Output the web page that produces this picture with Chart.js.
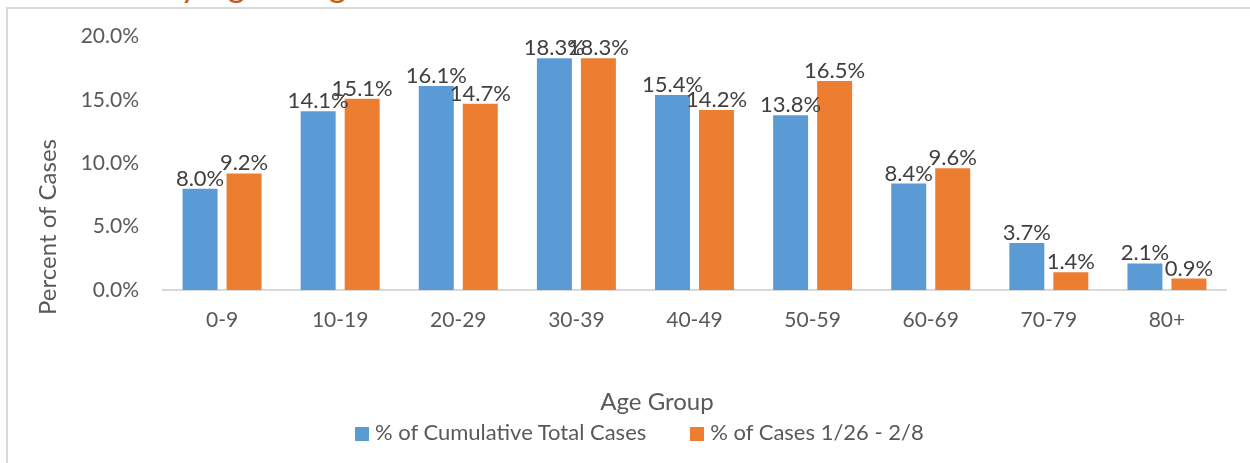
<!DOCTYPE html>
<html>
<head>
<meta charset="UTF-8">
<title>Percent of Cases by Age Range</title>
<script src="https://cdn.jsdelivr.net/npm/chart.js@4.4.4/dist/chart.umd.min.js"></script>
<style>
body { margin: 0; background: #fff; }
#wrap { position: relative; width: 1250px; height: 463px; overflow: hidden; font-family: Lato, sans-serif; }
#frame { position: absolute; left: 6px; top: 7px; width: 1300px; height: 500px;
  border-left: 2px solid #d9d9d9; border-top: 2px solid #d9d9d9; }
#title { position: absolute; left: 66px; top: -33px; font-size: 34px; line-height: 34px;
  color: #c55a11; white-space: nowrap; }
#myChart { position: absolute; left: 0; top: 0; }
#legend { position: absolute; left: 355px; top: 420px; font-size: 22px; color: #595959;
  white-space: nowrap; line-height: 24px; }
#legend span.item { display: inline-block; margin-right: 44px; }
#legend span.box { display: inline-block; width: 14px; height: 14px; margin-right: 6px; vertical-align: -1px; }
</style>
<script>
// data
const ageGroups = ['0-9', '10-19', '20-29', '30-39', '40-49', '50-59', '60-69', '70-79', '80+'];
const cumulativePct = [8.0, 14.1, 16.1, 18.3, 15.4, 13.8, 8.4, 3.7, 2.1];
const recentPct = [9.2, 15.1, 14.7, 18.3, 14.2, 16.5, 9.6, 1.4, 0.9];
const seriesNames = ['% of Cumulative Total Cases', '% of Cases 1/26 - 2/8'];
const seriesColors = ['#5b9bd5', '#ed7d31'];
const yTicks = [0, 5, 10, 15, 20];

// value labels over each bar
const barLabels = {
  id: 'barLabels',
  afterDatasetsDraw(chart) {
    const ctx = chart.ctx;
    ctx.save();
    ctx.font = '22px Lato';
    ctx.fillStyle = '#404040';
    ctx.textAlign = 'center';
    ctx.textBaseline = 'alphabetic';
    chart.data.datasets.forEach((ds, i) => {
      chart.getDatasetMeta(i).data.forEach((bar, j) => {
        ctx.fillText(ds.data[j].toFixed(1) + '%', bar.x, bar.y - 3);
      });
    });
    ctx.restore();
  }
};

// axis titles are not centred on the plot in the original, so place them by hand
const axisTitles = {
  id: 'axisTitles',
  afterDraw(chart) {
    const ctx = chart.ctx;
    ctx.save();
    ctx.font = '24px Lato';
    ctx.fillStyle = '#595959';
    ctx.textAlign = 'center';
    ctx.textBaseline = 'middle';
    ctx.fillText('Age Group', 657, 402);
    ctx.translate(48, 227);
    ctx.rotate(-Math.PI / 2);
    ctx.fillText('Percent of Cases', 0, 0);
    ctx.restore();
  }
};

window.onload = function () {
  const ctx = document.getElementById('myChart').getContext('2d');
  new Chart(ctx, {
    type: 'bar',
    data: {
      labels: ageGroups,
      datasets: [
        { label: seriesNames[0], data: cumulativePct, backgroundColor: seriesColors[0] },
        { label: seriesNames[1], data: recentPct, backgroundColor: seriesColors[1] }
      ]
    },
    options: {
      responsive: false,
      animation: false,
      layout: { padding: { top: 36, right: 24, left: 0, bottom: 0 } },
      categoryPercentage: 0.745,
      barPercentage: 0.795,
      plugins: { legend: { display: false }, tooltip: { enabled: false } },
      scales: {
        x: {
          grid: { display: false, drawTicks: false },
          border: { display: true, color: '#d9d9d9', width: 2 },
          ticks: { color: '#595959', font: { family: 'Lato', size: 21 }, padding: 18 },
          afterFit(scale) { scale.height = 463 - 290; }
        },
        y: {
          min: 0, max: 20,
          grid: { display: false, drawTicks: false },
          border: { display: false },
          afterBuildTicks(scale) { scale.ticks = yTicks.map(v => ({ value: v })); },
          ticks: { color: '#595959', font: { family: 'Lato', size: 21 }, padding: 24,
                   callback: v => v.toFixed(1) + '%' },
          afterFit(scale) { scale.width = 163; }
        }
      }
    },
    plugins: [barLabels, axisTitles]
  });

  // legend
  const lg = document.getElementById('legend');
  seriesNames.forEach((name, i) => {
    const item = document.createElement('span');
    item.className = 'item';
    const box = document.createElement('span');
    box.className = 'box';
    box.style.background = seriesColors[i];
    item.appendChild(box);
    item.appendChild(document.createTextNode(name));
    lg.appendChild(item);
  });
};
</script>
</head>
<body>
<div id="wrap">
  <div id="title">Cases by Age Range</div>
  <div id="frame"></div>
  <canvas id="myChart" width="1250" height="463"></canvas>
  <div id="legend"></div>
</div>
</body>
</html>
